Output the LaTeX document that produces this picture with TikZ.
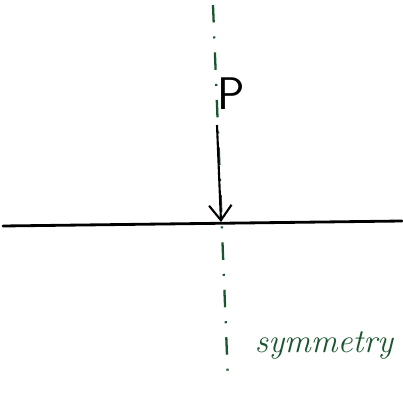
\documentclass[tikz,border=0pt]{standalone}
\usepackage{xcolor}
\usepackage{tikz}
\usetikzlibrary{positioning, calc, arrows.meta}
\definecolor{axisgreen}{RGB}{25,85,45}

\begin{document}
\begin{tikzpicture}[
    > = {Straight Barb[length = 3mm, width = 4.5mm]},
    beam/.style = {
      draw, line width = 1.6pt, line cap = round
    },
    axis/.style = {
      draw = axisgreen, line width = 1.3pt,
      dash pattern = on 3.5mm off 2.8mm on 0.4mm off 2.8mm
    },
    load/.style = {
      ->, line width = 1.2pt
    },
    label/.style = {
      inner sep = 0pt, font = \sffamily\fontsize{26}{26}\selectfont
    },
    note/.style = {
      inner sep = 0pt, text = axisgreen,
      font = \itshape\fontsize{19}{19}\selectfont
    },
    ]
    \useasboundingbox (0,0) rectangle (8.04,8.1);

    % draw beam and axis
    \coordinate  (bl)  at  (0.06,3.58);
    \coordinate  (br)  at  (8.04,3.68);
    \coordinate  (at)  at  (4.26,8.0);
    \coordinate  (ab)  at  (4.56,0.5);
    \draw  [beam]  (bl)  --  (br);
    \draw  [axis]  (at)  --  (ab);

    % draw load
    \coordinate  (ls)  at  (4.34,5.6);
    \coordinate  (le)  at  (4.42,3.66);
    \node  [label]  (P)  at  (4.62,6.22)  {P};
    \draw  [load]  (ls)  --  (le);

    % draw note
    \node  [note]  (sym)  at  (6.48,1.2)  {symmetry};
\end{tikzpicture}
\end{document}
